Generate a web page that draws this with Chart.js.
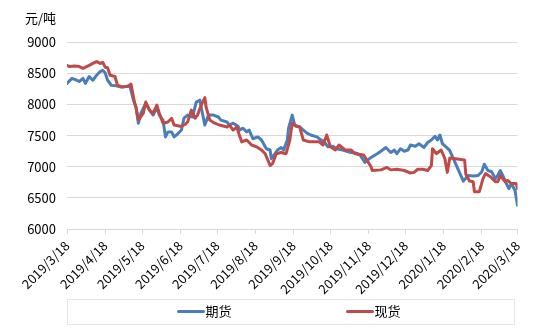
<!DOCTYPE html>
<html>
<head>
<meta charset="utf-8">
<script src="https://cdn.jsdelivr.net/npm/chart.js@4/dist/chart.umd.min.js"></script>
<style>
  html, body { margin: 0; padding: 0; background: #ffffff; }
  #wrap { width: 553px; height: 332px; }
</style>
</head>
<body>
<div id="wrap"><canvas id="c" width="553" height="332"></canvas></div>
<script>
// ---------- data ----------
const unitLabel = '元/吨';
const seriesNames = ['期货', '现货'];
const tickLabels = ['2019/3/18','2019/4/18','2019/5/18','2019/6/18','2019/7/18','2019/8/18','2019/9/18',
  '2019/10/18','2019/11/18','2019/12/18','2020/1/18','2020/2/18','2020/3/18'];
const yTicks = [6000, 6500, 7000, 7500, 8000, 8500, 9000];

const futDates = ['2019/3/18','2019/3/22','2019/3/26','2019/3/28','2019/3/31','2019/4/2','2019/4/5','2019/4/8',
  '2019/4/11','2019/4/14','2019/4/16','2019/4/18','2019/4/20','2019/4/23','2019/4/27','2019/5/1','2019/5/5',
  '2019/5/8','2019/5/11','2019/5/13','2019/5/15','2019/5/17','2019/5/21','2019/5/24','2019/5/27','2019/5/30',
  '2019/6/1','2019/6/4','2019/6/6','2019/6/8','2019/6/11','2019/6/13','2019/6/16','2019/6/19','2019/6/21',
  '2019/6/24','2019/6/28','2019/7/1','2019/7/4','2019/7/6','2019/7/8','2019/7/11','2019/7/15','2019/7/19',
  '2019/7/21','2019/7/26','2019/7/28','2019/7/31','2019/8/4','2019/8/5','2019/8/8','2019/8/11','2019/8/13',
  '2019/8/16','2019/8/20','2019/8/23','2019/8/27','2019/8/30','2019/8/31','2019/9/3','2019/9/5','2019/9/8',
  '2019/9/10','2019/9/13','2019/9/14','2019/9/17','2019/9/19','2019/9/23','2019/9/26','2019/9/29','2019/10/2',
  '2019/10/7','2019/10/9','2019/10/13','2019/10/16','2019/10/20','2019/10/23','2019/10/28','2019/11/3',
  '2019/11/8','2019/11/11','2019/11/15','2019/11/20','2019/11/25','2019/11/28','2019/12/2','2019/12/6',
  '2019/12/9','2019/12/11','2019/12/14','2019/12/17','2019/12/20','2019/12/22','2019/12/26','2019/12/29',
  '2020/1/2','2020/1/5','2020/1/8','2020/1/11','2020/1/13','2020/1/15','2020/1/17','2020/1/21','2020/1/23',
  '2020/2/3','2020/2/7','2020/2/11','2020/2/15','2020/2/18','2020/2/20','2020/2/23','2020/2/26','2020/2/29',
  '2020/3/2','2020/3/4','2020/3/6','2020/3/9','2020/3/11','2020/3/13','2020/3/16','2020/3/18'];
const futValues = [8340,8420,8390,8370,8420,8340,8450,8390,
  8470,8530,8550,8510,8390,8310,8300,8280,8290,
  8300,8070,7960,7700,7860,8020,7910,7830,7960,
  7830,7750,7480,7560,7560,7480,7530,7590,7780,
  7830,7800,8040,8070,7860,7670,7830,7830,7800,
  7750,7720,7670,7700,7650,7590,7620,7560,7590,
  7450,7480,7430,7290,7270,7130,7210,7270,7310,
  7270,7430,7620,7830,7670,7640,7590,7540,7510,
  7480,7450,7400,7320,7330,7290,7270,7230,
  7220,7190,7070,7150,7210,7250,7310,7230,
  7270,7210,7290,7250,7270,7350,7330,7370,
  7310,7390,7430,7490,7430,7510,7370,7300,7260,
  6770,6860,6850,6860,6920,7040,6940,6920,6810,
  6860,6940,6860,6730,6650,6730,6620,6380];

const spotDates = ['2019/3/18','2019/3/20','2019/3/24','2019/3/28','2019/3/31','2019/4/3','2019/4/5','2019/4/8',
  '2019/4/11','2019/4/14','2019/4/16','2019/4/18','2019/4/20','2019/4/22','2019/4/26','2019/4/28','2019/5/2',
  '2019/5/7','2019/5/9','2019/5/11','2019/5/12','2019/5/13','2019/5/15','2019/5/19','2019/5/21','2019/5/24',
  '2019/5/27','2019/5/30','2019/6/1','2019/6/4','2019/6/8','2019/6/11','2019/6/13','2019/6/18','2019/6/22',
  '2019/6/24','2019/6/27','2019/6/30','2019/7/2','2019/7/5','2019/7/8','2019/7/9','2019/7/12','2019/7/16',
  '2019/7/20','2019/7/26','2019/7/28','2019/7/31','2019/8/3','2019/8/5','2019/8/7','2019/8/11','2019/8/15',
  '2019/8/19','2019/8/23','2019/8/26','2019/8/30','2019/9/1','2019/9/4','2019/9/8','2019/9/12','2019/9/15',
  '2019/9/17','2019/9/20','2019/9/23','2019/9/26','2019/10/1','2019/10/9','2019/10/12','2019/10/15',
  '2019/10/18','2019/10/22','2019/10/25','2019/10/30','2019/11/4','2019/11/7','2019/11/14','2019/11/20',
  '2019/11/21','2019/11/28','2019/12/3','2019/12/6','2019/12/11','2019/12/17','2019/12/22','2019/12/25',
  '2019/12/28','2020/1/1','2020/1/5','2020/1/8','2020/1/9','2020/1/12','2020/1/16','2020/1/19','2020/1/21',
  '2020/1/23','2020/2/4','2020/2/5','2020/2/8','2020/2/11','2020/2/12','2020/2/16','2020/2/19','2020/2/21',
  '2020/2/25','2020/2/29','2020/3/2','2020/3/4','2020/3/8','2020/3/10','2020/3/13','2020/3/17','2020/3/18'];
const spotValues = [8630,8610,8620,8610,8580,8610,8630,8660,
  8690,8660,8680,8600,8590,8470,8450,8310,8280,
  8300,8330,8120,8020,7960,7750,7860,8040,7910,
  7860,7990,7860,7700,7720,7780,7670,7650,7680,
  7720,7910,7780,7830,7990,8110,7960,7750,7700,
  7670,7640,7670,7590,7640,7510,7400,7430,7350,
  7320,7270,7210,7020,7050,7210,7230,7210,7430,
  7700,7650,7640,7430,7400,7400,7350,7510,
  7320,7270,7350,7270,7270,7210,7190,7000,
  6940,6950,6990,6950,6960,6940,6900,6910,
  6960,6960,6940,7020,7290,7210,7270,7130,6910,
  7140,7110,6880,6770,6760,6600,6600,6810,6890,
  6840,6760,6760,6860,6760,6780,6730,6730,6650];

// ---------- helpers ----------
const BASE = Date.UTC(2019, 2, 18);
function dayOf(s) {
  const p = s.split('/').map(Number);
  return (Date.UTC(p[0], p[1] - 1, p[2]) - BASE) / 86400000;
}
const tickDays = tickLabels.map(dayOf);
const toPoints = (dates, vals) => dates.map((d, i) => ({ x: dayOf(d), y: vals[i] }));

const FONT = "'Noto Sans CJK SC', 'Liberation Sans', sans-serif";
const BLUE = '#4A7EBB';
const RED = '#BE4B48';

const legendPlugin = {
  id: 'boxLegend',
  afterDraw(chart) {
    const ctx = chart.ctx;
    const a = chart.chartArea;
    const top = a.bottom + 70, h = 25;
    const left = a.left, right = a.right - 3.5;
    ctx.save();
    ctx.strokeStyle = '#e6e6e6';
    ctx.lineWidth = 1;
    ctx.strokeRect(left + 0.5, top + 0.5, right - left, h);
    const cy = top + h / 2;
    const cx = (left + right) / 2;
    const starts = [cx - 112, cx + 57];
    ctx.font = '13px ' + FONT;
    ctx.textBaseline = 'middle';
    ctx.fillStyle = '#000';
    chart.data.datasets.forEach((ds, i) => {
      const x0 = starts[i];
      ctx.strokeStyle = ds.borderColor;
      ctx.lineWidth = 3;
      ctx.lineCap = 'round';
      ctx.beginPath();
      ctx.moveTo(x0, cy);
      ctx.lineTo(x0 + 25, cy);
      ctx.stroke();
      ctx.fillText(ds.label, x0 + 27, cy);
    });
    ctx.restore();
  }
};

new Chart(document.getElementById('c'), {
  type: 'line',
  data: {
    datasets: [
      { label: seriesNames[0], data: toPoints(futDates, futValues), borderColor: BLUE, backgroundColor: BLUE,
        borderWidth: 3, pointRadius: 0, tension: 0, order: 2, borderJoinStyle: 'round', borderCapStyle: 'round' },
      { label: seriesNames[1], data: toPoints(spotDates, spotValues), borderColor: RED, backgroundColor: RED,
        borderWidth: 3, pointRadius: 0, tension: 0, order: 1, borderJoinStyle: 'round', borderCapStyle: 'round' }
    ]
  },
  options: {
    responsive: false,
    animation: false,
    layout: { padding: { left: 25, right: 35.5, top: 10, bottom: 33 } },
    plugins: {
      legend: { display: false },
      tooltip: { enabled: false },
      title: {
        display: true, text: unitLabel, align: 'start', color: '#000',
        font: { family: FONT, size: 13, weight: 'normal' },
        padding: { top: 0, bottom: 16.7 }
      }
    },
    scales: {
      x: {
        type: 'linear', min: tickDays[0], max: tickDays[tickDays.length - 1],
        afterBuildTicks: (s) => { s.ticks = tickDays.map(v => ({ value: v })); },
        afterFit: (s) => { s.height = 70; s.paddingLeft = 0; s.paddingRight = 0; },
        ticks: {
          autoSkip: false, maxRotation: 45, minRotation: 45, padding: 4, color: '#000',
          font: { family: FONT, size: 13 },
          callback: (v) => { const i = tickDays.indexOf(v); return i >= 0 ? tickLabels[i] : ''; }
        },
        grid: { drawOnChartArea: false, drawTicks: true, tickLength: 5, color: '#d9d9d9' },
        border: { display: true, color: '#d9d9d9' }
      },
      y: {
        min: yTicks[0], max: yTicks[yTicks.length - 1],
        afterBuildTicks: (s) => { s.ticks = yTicks.map(v => ({ value: v })); },
        afterFit: (s) => { s.width = 42; },
        ticks: { padding: 11, color: '#000', font: { family: FONT, size: 13 }, callback: (v) => String(v) },
        grid: { color: '#d9d9d9', drawTicks: false },
        border: { display: false }
      }
    }
  },
  plugins: [legendPlugin]
});
</script>
</body>
</html>
